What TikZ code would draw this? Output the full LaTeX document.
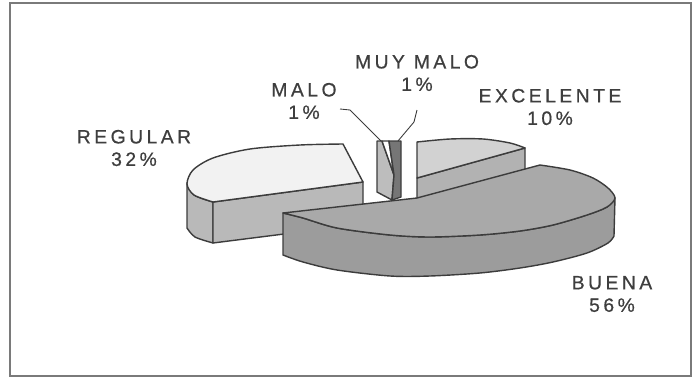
\documentclass[tikz,border=0pt]{standalone}
\usepackage{fontspec}
\newfontfamily\lblfont[LetterSpace=18,FakeBold=0.6]{Liberation Sans}
\usepackage{tikz}
\definecolor{frameclr}{HTML}{7A7A7A}
\definecolor{edge}{HTML}{3C3C3C}
\definecolor{labtext}{HTML}{3E3E3E}
\definecolor{regtopc}{HTML}{F2F2F2}
\definecolor{regsidec}{HTML}{B9B9B9}
\definecolor{buetopc}{HTML}{A9A9A9}
\definecolor{buesidec}{HTML}{9C9C9C}
\definecolor{exctopc}{HTML}{D2D2D2}
\definecolor{excsidec}{HTML}{B2B2B2}
\definecolor{malosidec}{HTML}{BDBDBD}
\definecolor{muymaloc}{HTML}{767676}
\tikzset{
  frame/.style={draw=frameclr, line width=1.4pt},
  face/.style={draw=edge, line width=0.8pt, line join=round},
  regtop/.style={face, fill=regtopc},
  regside/.style={face, fill=regsidec},
  buetop/.style={face, fill=buetopc},
  bueside/.style={face, fill=buesidec},
  exctop/.style={face, fill=exctopc},
  excside/.style={face, fill=excsidec},
  malotop/.style={face, fill=white},
  maloside/.style={face, fill=malosidec},
  muymalo/.style={face, fill=muymaloc},
  leader/.style={draw=edge, line width=0.5pt},
  lab/.style={text=labtext, align=center, inner sep=0pt,
    font=\lblfont\fontsize{11}{12.8}\selectfont}
}
\begin{document}
\begin{tikzpicture}[x=0.02cm,y=-0.02cm]
  \useasboundingbox (0,0) rectangle (698,379);
  \draw[frame] (10,3) rectangle (691,376);

  % REGULAR 32%
  \filldraw[regside] plot[smooth] coordinates {(187,183) (194,195) (213,202)}
    -- (213,243) -- plot[smooth] coordinates {(213,243) (195,237) (187,228)} -- cycle;
  \filldraw[regside] (213,202) -- (363,182) -- (363,224) -- (213,243) -- cycle;
  \filldraw[regtop] (363,182) -- (213,202)
    -- plot[smooth] coordinates {(213,202) (194,195) (187,184) (193,170) (213,158) (250,149) (300,145) (343,144)}
    -- cycle;

  % MALO 1% and MUY MALO 1%
  \filldraw[maloside] (377,141) -- (382,141) -- (394,175) -- (392,200) -- (377,192) -- cycle;
  \filldraw[malotop] (382,141) -- (389,141) -- (394,175) -- cycle;
  \filldraw[muymalo] (389,141) -- (401,141) -- (401,197) -- (392,200) -- (394,175) -- cycle;

  % EXCELENTE 10%
  \filldraw[excside] (417,178) -- (525,148) -- (525,190) -- (417,220) -- cycle;
  \filldraw[exctop] (417,178) -- (417,142)
    -- plot[smooth] coordinates {(417,142) (450,139) (483,139) (510,143) (525,148)} -- cycle;

  % BUENA 56%
  \filldraw[bueside] plot[smooth] coordinates {(283,213) (303,218) (337,228) (390,235) (430,237) (480,235) (520,231) (553,225) (587,215) (607,207) (615,198)}
    -- (614,236)
    -- plot[smooth] coordinates {(614,236) (608,243) (587,253) (553,262) (520,268) (480,273) (430,276) (390,276) (337,270) (303,262) (283,255)}
    -- cycle;
  \filldraw[buetop] (283,213) -- (417,198) -- (540,165)
    -- plot[smooth] coordinates {(540,165) (570,170) (593,178) (608,188) (615,198) (607,207) (587,215) (553,225) (520,231) (480,235) (430,237) (390,235) (337,228) (303,218) (283,213)}
    -- cycle;

  % labels
  \node[lab] (lblregular) at (134,148) {REGULAR\\32\%};
  \node[lab] (lblmalo) at (304,101) {MALO\\1\%};
  \node[lab] (lblmuymalo) at (417,73) {MUY MALO\\1\%};
  \node[lab] (lblexcelente) at (550,107) {EXCELENTE\\10\%};
  \node[lab] (lblbuena) at (612,294) {BUENA\\56\%};

  % leader lines
  \coordinate (malofrom) at (340,109);
  \coordinate (malobend) at (350,110);
  \coordinate (maloto) at (381,141);
  \coordinate (muyfrom) at (417,110);
  \coordinate (muybend) at (414,122);
  \coordinate (muyto) at (398,141);
  \draw[leader] (malofrom) -- (malobend) -- (maloto);
  \draw[leader] (muyfrom) -- (muybend) -- (muyto);
\end{tikzpicture}
\end{document}
